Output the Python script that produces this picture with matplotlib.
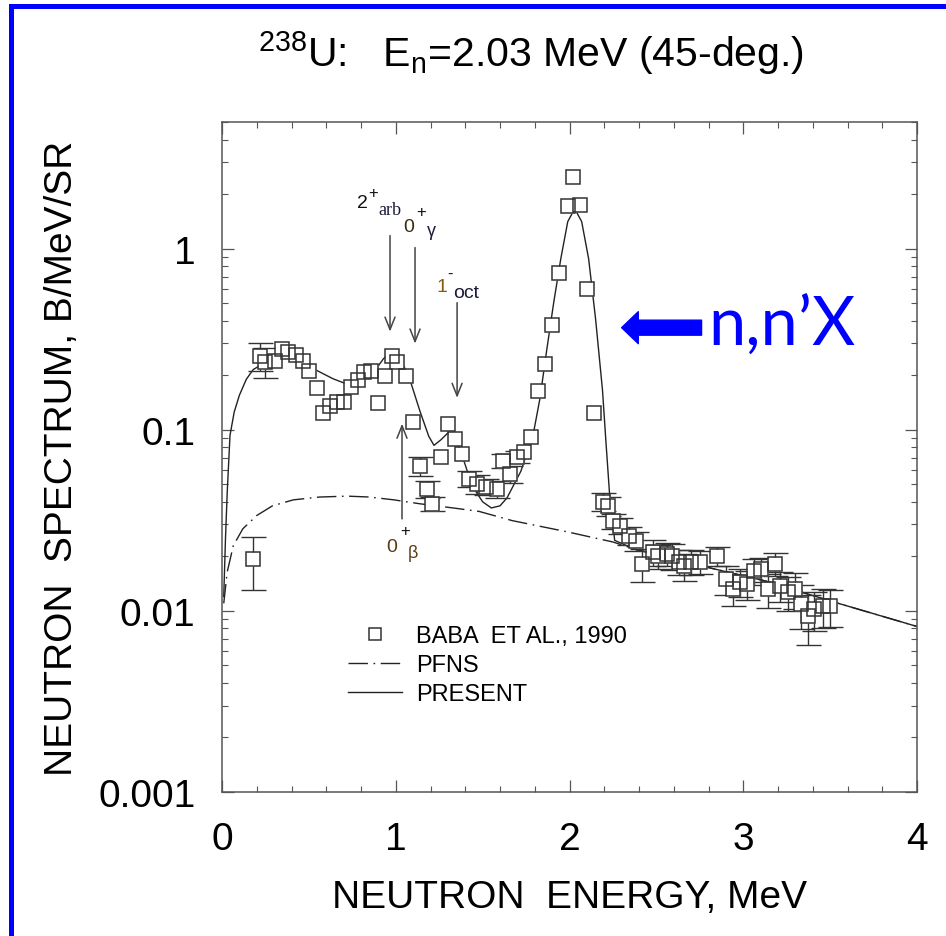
import matplotlib
matplotlib.use("Agg")
import matplotlib.pyplot as plt
from matplotlib.lines import Line2D
from matplotlib.patches import Rectangle
from matplotlib.ticker import FixedLocator, MultipleLocator, LogLocator, NullFormatter, FixedFormatter

plt.rcParams['font.family'] = ['Liberation Sans', 'DejaVu Sans']

# ---------------- data ----------------
exp_energy = [0.18, 0.22, 0.25, 0.305, 0.345, 0.38, 0.425, 0.465, 0.50, 0.545,
              0.58, 0.62, 0.66, 0.70, 0.74, 0.78, 0.82, 0.86, 0.90, 0.94,
              0.98, 1.01, 1.06, 1.10, 1.14, 1.18, 1.21, 1.26, 1.30, 1.34,
              1.38, 1.42, 1.47, 1.52, 1.58, 1.62, 1.66, 1.70, 1.74, 1.78,
              1.82, 1.86, 1.90, 1.94, 1.99, 2.02, 2.06, 2.10, 2.14, 2.19,
              2.22, 2.25, 2.29, 2.34, 2.38, 2.42, 2.48, 2.51, 2.56, 2.59,
              2.63, 2.66, 2.70, 2.75, 2.85, 2.90, 2.94, 2.98, 3.02, 3.06,
              3.10, 3.14, 3.18, 3.21, 3.26, 3.30, 3.33, 3.37, 3.41, 3.46, 3.50]
exp_spectrum = [0.0194, 0.256, 0.238, 0.241, 0.280, 0.270, 0.260, 0.241, 0.212, 0.169,
                0.123, 0.136, 0.143, 0.143, 0.173, 0.187, 0.209, 0.212, 0.141, 0.199,
                0.256, 0.238, 0.199, 0.111, 0.0633, 0.0472, 0.0390, 0.0710, 0.107, 0.0892,
                0.0737, 0.0536, 0.0503, 0.0484, 0.0472, 0.0675, 0.0571, 0.0710, 0.0756, 0.0915,
                0.164, 0.232, 0.380, 0.737, 1.71, 2.47, 1.73, 0.601, 0.123, 0.0400,
                0.0380, 0.0314, 0.0295, 0.0260, 0.0244, 0.0182, 0.0212, 0.0201, 0.0206, 0.0201,
                0.0187, 0.0177, 0.0187, 0.0187, 0.0201, 0.0150, 0.0132, 0.0145, 0.0141, 0.0166,
                0.0170, 0.0132, 0.0182, 0.0138, 0.0127, 0.0132, 0.0109, 0.0094, 0.0102, 0.0106, 0.0106]
exp_error = [0.0063, 0.046, 0.045, 0.0, 0.0, 0.0, 0.0, 0.0, 0.0, 0.0,
             0.0, 0.0, 0.0, 0.0, 0.0, 0.0, 0.0, 0.0, 0.0, 0.0,
             0.0, 0.0, 0.0, 0.0, 0.0075, 0.0050, 0.0035, 0.0, 0.0, 0.0,
             0.0, 0.0055, 0.0060, 0.0050, 0.0050, 0.0060, 0.0060, 0.0055, 0.0, 0.0,
             0.0, 0.0, 0.0, 0.0, 0.0, 0.0, 0.0, 0.0, 0.0, 0.0045,
             0.0045, 0.0030, 0.0030, 0.0030, 0.0030, 0.0037, 0.0035, 0.0030, 0.0030, 0.0032,
             0.0030, 0.0030, 0.0030, 0.0028, 0.0025, 0.0028, 0.0026, 0.0026, 0.0026, 0.0027,
             0.0026, 0.0028, 0.0026, 0.0026, 0.0027, 0.0030, 0.0030, 0.0029, 0.0025, 0.0026, 0.0025]

pfns_energy = [0.01, 0.03, 0.065, 0.12, 0.20, 0.29, 0.41, 0.56, 0.72, 0.85, 0.99,
               1.14, 1.33, 1.48, 1.67, 1.98, 2.25, 2.37, 2.75, 3.13, 3.52, 4.0]
pfns_spectrum = [0.011, 0.0164, 0.0229, 0.0284, 0.0336, 0.038, 0.041, 0.0425, 0.043, 0.0425, 0.041,
                 0.039, 0.037, 0.0354, 0.0315, 0.0274, 0.0240, 0.0220, 0.0178, 0.0146, 0.0112, 0.0082]

present_energy = [0.01, 0.02, 0.03, 0.046, 0.07, 0.10, 0.14, 0.18, 0.28, 0.37, 0.47, 0.56,
                  0.64, 0.71, 0.75, 0.81, 0.87, 0.93, 0.98, 1.02, 1.08, 1.14, 1.19, 1.22,
                  1.26, 1.30, 1.37, 1.44, 1.50, 1.55, 1.60, 1.64, 1.72, 1.79, 1.83, 1.87,
                  1.91, 1.95, 1.99, 2.03, 2.07, 2.11, 2.15, 2.19, 2.21, 2.23, 2.26, 2.37,
                  2.75, 3.13, 3.52, 4.0]
present_spectrum = [0.012, 0.025, 0.045, 0.093, 0.125, 0.155, 0.19, 0.215, 0.245, 0.250, 0.232, 0.209,
                    0.191, 0.180, 0.182, 0.196, 0.206, 0.247, 0.270, 0.256, 0.191, 0.126, 0.092, 0.082,
                    0.088, 0.096, 0.078, 0.049, 0.040, 0.037, 0.038, 0.042, 0.059, 0.093, 0.149, 0.28,
                    0.51, 0.88, 1.41, 1.66, 1.41, 0.88, 0.41, 0.165, 0.085, 0.045, 0.0245, 0.0220,
                    0.0178, 0.0146, 0.0112, 0.0082]

x_ticks = [0, 1, 2, 3, 4]
x_tick_labels = ["0", "1", "2", "3", "4"]
y_ticks = [0.001, 0.01, 0.1, 1]
y_tick_labels = ["0.001", "0.01", "0.1", "1"]

# ---------------- figure ----------------
W, H = 946, 937
fig = plt.figure(figsize=(W / 100, H / 100), dpi=100)
ax = fig.add_axes([222 / W, (H - 793) / H, (917 - 222) / W, (793 - 123) / H])

ax.set_yscale('log')
ax.set_xlim(0, 4)
ax.set_ylim(0.001, 5)

ink = '#222222'
pfns_style = (0, (14, 4, 1.2, 4))
ax.plot(pfns_energy, pfns_spectrum, color=ink, lw=1.0, linestyle=pfns_style, zorder=2)
ax.plot(present_energy, present_spectrum, color=ink, lw=1.0, zorder=2)

with_err = [i for i, e in enumerate(exp_error) if e > 0]
ax.errorbar([exp_energy[i] for i in with_err], [exp_spectrum[i] for i in with_err],
            yerr=[exp_error[i] for i in with_err], fmt='none', ecolor='#333333',
            elinewidth=1.0, capsize=9, capthick=1.0, zorder=3)
ax.plot(exp_energy, exp_spectrum, linestyle='none', marker='s', ms=10,
        mfc='white', mec='none', zorder=4)
ax.plot(exp_energy, exp_spectrum, linestyle='none', marker='s', ms=10,
        mfc='none', mec='#333333', mew=1.1, zorder=5)

# axes styling
for s in ax.spines.values():
    s.set_color('#555555')
    s.set_linewidth(1.1)
ax.xaxis.set_major_locator(FixedLocator(x_ticks))
ax.xaxis.set_major_formatter(FixedFormatter(x_tick_labels))
ax.xaxis.set_minor_locator(MultipleLocator(0.2))
ax.yaxis.set_major_locator(FixedLocator(y_ticks))
ax.yaxis.set_major_formatter(FixedFormatter(y_tick_labels))
ax.yaxis.set_minor_locator(LogLocator(base=10, subs=range(2, 10)))
ax.yaxis.set_minor_formatter(NullFormatter())
ax.tick_params(which='both', direction='in', top=True, right=True, color='#555555')
ax.tick_params(which='major', length=8.6, width=0.9, labelsize=28)
ax.tick_params(which='minor', length=4.3, width=0.8)
ax.tick_params(axis='x', which='major', pad=21)
ax.tick_params(axis='y', which='major', pad=19)

ax.set_xlabel("NEUTRON  ENERGY, MeV", fontsize=28, labelpad=16)
ax.set_ylabel("NEUTRON  SPECTRUM, B/MeV/SR", fontsize=28, labelpad=13)

# title
fig.text(531 / W, (H - 67) / H,
         r"$^{\mathregular{238}}$U:   E$_{\mathregular{n}}$=2.03 MeV (45-deg.)",
         ha='center', va='baseline', fontsize=29.5)

# level annotations
sans = 14
arrow_kw = dict(arrowstyle='->,head_length=9,head_width=3.6', color='#444444',
                lw=1.1, shrinkA=0, shrinkB=0, mutation_scale=1)
ax.annotate('', xy=(0.967, 0.348), xytext=(0.967, 1.18), arrowprops=arrow_kw)
ax.annotate('', xy=(1.111, 0.299), xytext=(1.111, 1.013), arrowprops=arrow_kw)
ax.annotate('', xy=(1.353, 0.150), xytext=(1.353, 0.503), arrowprops=arrow_kw)
ax.annotate('', xy=(1.036, 0.108), xytext=(1.036, 0.0322), arrowprops=arrow_kw)

ax.text(0.777, 1.706, "2", fontsize=sans, color='#111111', va='baseline')
ax.text(0.840, 2.04, "+", fontsize=12, color='#111111', va='center')
ax.text(0.898, 1.56, "arb", fontsize=13, family='Liberation Serif', color='#1a1a3a', va='baseline')
ax.text(1.042, 1.257, "0", fontsize=sans, color='#3a2a10', va='baseline')
ax.text(1.117, 1.60, "+", fontsize=12, color='#111111', va='center')
ax.text(1.180, 1.195, "γ", fontsize=13, color='#1a1a3a', va='baseline')
ax.text(1.237, 0.586, "1", fontsize=sans, color='#8a5a10', va='baseline')
ax.text(1.295, 0.728, "-", fontsize=12, color='#111111', va='center')
ax.text(1.329, 0.543, "oct", fontsize=sans, color='#1a1a3a', va='baseline')
ax.text(0.944, 0.0214, "0", fontsize=sans, color='#5a3a10', va='baseline')
ax.text(1.024, 0.0277, "+", fontsize=12, color='#111111', va='center')
ax.text(1.071, 0.0199, "β", fontsize=13, color='#5a3a10', va='baseline')

# n,n'X callout
ax.annotate('', xy=(2.30, 0.366), xytext=(2.76, 0.366),
            arrowprops=dict(arrowstyle='simple,head_length=12,head_width=23,tail_width=10.8',
                            color='#0000ff', mutation_scale=1, shrinkA=0, shrinkB=0))
ax.text(2.80, 0.30, "n,n\u2019X", fontsize=48, color='#0000ff', va='baseline',
        family=['Lato', 'DejaVu Sans'])

# legend
handles = [Line2D([], [], linestyle='none', marker='s', ms=9, mfc='none', mec='#333333', mew=1.1),
           Line2D([], [], color=ink, lw=1.0, linestyle=pfns_style),
           Line2D([], [], color=ink, lw=1.0)]
labels = ["BABA  ET AL., 1990", "PFNS", "PRESENT"]
ax.legend(handles, labels, loc='upper left', bbox_to_anchor=(348 / W, (H - 626) / H),
          bbox_transform=fig.transFigure, frameon=False, fontsize=17, numpoints=1,
          handlelength=2.3, handletextpad=0.6, labelspacing=0.3, borderpad=0, borderaxespad=0)

# blue slide border (left and top edges)
fig.add_artist(Rectangle((10.5 / W, -0.05), 1.2, (H - 6.5) / H + 0.05,
                         transform=fig.transFigure, fill=False, edgecolor='#0000ff',
                         linewidth=3.6, clip_on=False))

fig.savefig("out.png", dpi=100)
